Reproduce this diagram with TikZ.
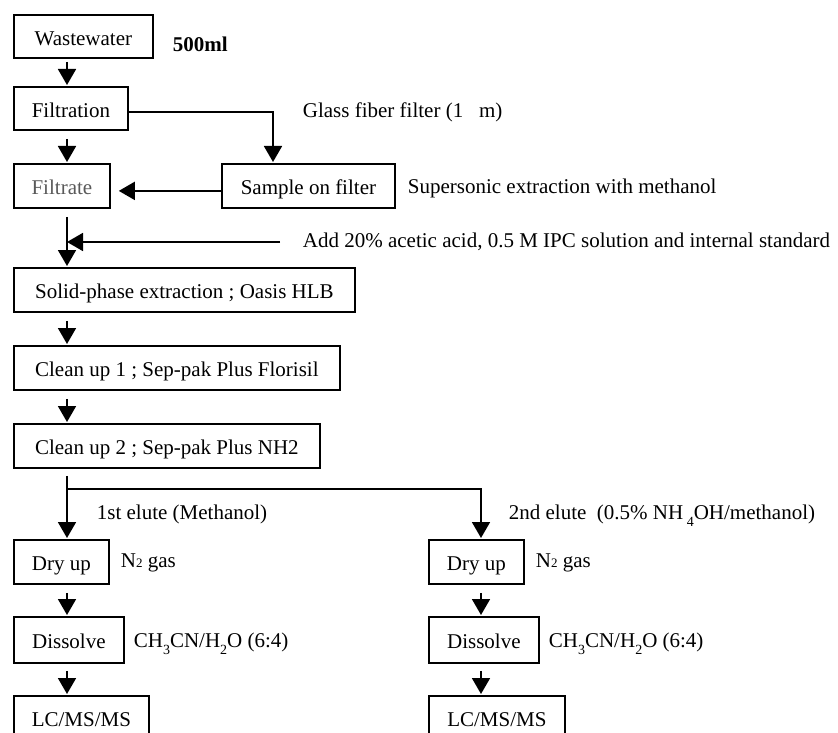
\documentclass[tikz,border=0pt]{standalone}
\usepackage{fontspec}
\setmainfont{Liberation Serif}
\usetikzlibrary{arrows.meta}
\newcommand{\dropsub}[1]{\raisebox{-7pt}{\fontsize{14}{14}\selectfont #1}}

\begin{document}
\begin{tikzpicture}[x=1pt, y=-1pt, line width=1.8pt,
    font=\fontsize{21}{25}\selectfont,
    box/.style={draw, anchor=north west, inner sep=0pt, text height=18pt, text depth=0pt},
    note/.style={anchor=west, inner sep=0pt},
    flow/.style={-{Triangle[length=16pt,width=18pt]}, shorten <=8pt, shorten >=1pt}]
        \useasboundingbox (0,0) rectangle (838,733);
        \clip (0,0) rectangle (838,733);

        \node[box, minimum width=139pt, minimum height=43pt] (wastewater) at (13,14) {Wastewater};
        \node[box, minimum width=114pt, minimum height=43pt] (filtration) at (13,86) {Filtration};
        \node[box, minimum width=96pt, minimum height=44pt, text=black!65] (filtrate) at (13,163) {Filtrate};
        \node[box, minimum width=173pt, minimum height=44pt] (sample) at (221,163) {Sample on filter};
        \node[box, minimum width=341pt, minimum height=44pt] (spe) at (13,267) {Solid-phase extraction ; Oasis HLB};
        \node[box, minimum width=326pt, minimum height=44pt] (clean1) at (13,345) {Clean up 1 ; Sep-pak Plus Florisil};
        \node[box, minimum width=306pt, minimum height=44pt] (clean2) at (13,423) {Clean up 2 ; Sep-pak Plus NH2};
        \node[box, minimum width=95pt, minimum height=44pt] (dryA) at (13,539) {Dry up};
        \node[box, minimum width=110pt, minimum height=46pt] (dissA) at (13,616) {Dissolve};
        \node[box, minimum width=135pt, minimum height=44pt] (lcA) at (13,695) {LC/MS/MS};
        \node[box, minimum width=95pt, minimum height=44pt] (dryB) at (428,539) {Dry up};
        \node[box, minimum width=110pt, minimum height=46pt] (dissB) at (428,616) {Dissolve};
        \node[box, minimum width=136pt, minimum height=44pt] (lcB) at (428,695) {LC/MS/MS};

        \node[note, font=\fontsize{21}{25}\selectfont\bfseries] (volume) at (172,44) {500ml};
        \node[note] (glass) at (302,112) {Glass fiber filter (1\hspace{0.75em}m)};
        \node[note] (supersonic) at (407,188) {Supersonic extraction with methanol};
        \node[note] (add) at (302,242) {Add 20\% acetic acid, 0.5 M IPC solution and internal standard};
        \node[note, anchor=base west] (eluteA) at (96,519) {1st elute (Methanol)};
        \node[note, anchor=base west] (eluteB) at (508,519) {2nd elute\ \ (0.5\% NH\,\dropsub{4}OH/methanol)};
        \node[note] (gasA) at (120,563) {N{\fontsize{13}{13}\selectfont 2} gas};
        \node[note] (gasB) at (535,563) {N{\fontsize{13}{13}\selectfont 2} gas};
        \node[note, anchor=base west] (solvA) at (133,647) {CH\dropsub{3}CN/H\dropsub{2}O (6:4)};
        \node[note, anchor=base west] (solvB) at (548,647) {CH\dropsub{3}CN/H\dropsub{2}O (6:4)};

        \coordinate (stem) at ([xshift=54pt]filtrate.south west);
        \coordinate (addin) at (280,242);

        \draw[flow, shorten <=3pt] ([xshift=54pt]wastewater.south west) -- ([xshift=54pt]filtration.north west);
        \draw[flow] ([xshift=54pt]filtration.south west) -- ([xshift=54pt]filtrate.north west);
        \draw[flow, shorten <=0pt] ([yshift=-4pt]filtration.east) -| ([xshift=52pt]sample.north west);
        \draw[flow, shorten <=0pt, shorten >=8pt] ([yshift=-5pt]sample.west) -- ([yshift=-5pt]filtrate.east);
        \draw[flow] (stem) -- ([xshift=54pt]spe.north west);
        \draw[flow, shorten <=0pt, shorten >=0pt] (addin) -- (addin -| stem);
        \draw[flow] ([xshift=54pt]spe.south west) -- ([xshift=54pt]clean1.north west);
        \draw[flow] ([xshift=54pt]clean1.south west) -- ([xshift=54pt]clean2.north west);
        \draw[flow, shorten <=7pt] ([xshift=54pt]clean2.south west) -- ([xshift=54pt]dryA.north west);
        \draw[flow, shorten <=0pt] ([xshift=54pt,yshift=-20pt]clean2.south west) -| ([xshift=53pt]dryB.north west);
        \draw[flow] ([xshift=54pt]dryA.south west) -- ([xshift=54pt]dissA.north west);
        \draw[flow, shorten <=7pt] ([xshift=54pt]dissA.south west) -- ([xshift=54pt]lcA.north west);
        \draw[flow] ([xshift=53pt]dryB.south west) -- ([xshift=53pt]dissB.north west);
        \draw[flow, shorten <=7pt] ([xshift=53pt]dissB.south west) -- ([xshift=53pt]lcB.north west);
    \end{tikzpicture}
\end{document}
